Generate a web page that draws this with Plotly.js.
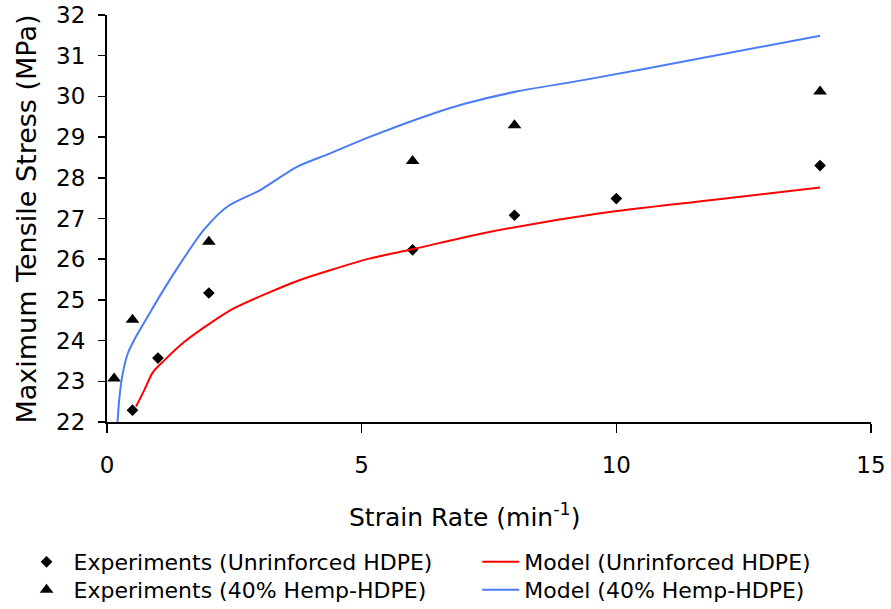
<!DOCTYPE html>
<html>
<head>
<meta charset="utf-8">
<script src="https://cdn.plot.ly/plotly-3.0.1.min.js"></script>
<style>html,body{margin:0;padding:0;background:#fff;}#chart{width:891px;height:609px;}</style>
</head>
<body>
<div id="chart"></div>
<script>
// Experimental data
const expRate = [0.5, 1, 2, 6, 8, 10, 14];
const expUnreinforced = [22.29, 23.57, 25.17, 26.23, 27.08, 27.49, 28.30];
const expHempRate = [0.14, 0.5, 2, 6, 8, 14];
const expHemp = [23.07, 24.51, 26.43, 28.41, 29.29, 30.12];

// Model curves
const modelURate = [0.57, 0.735, 0.90, 1.13, 1.52, 2.03, 2.49, 3.14, 3.79, 4.38, 5.17, 6.02, 7.39, 9.68, 11.84, 14.0];
const modelU = [22.38, 22.79, 23.22, 23.52, 23.97, 24.43, 24.79, 25.16, 25.49, 25.73, 26.02, 26.25, 26.64, 27.13, 27.45, 27.76];
const modelHRate = [0.2, 0.245, 0.31, 0.41, 0.57, 0.80, 1.03, 1.38, 1.90, 2.36, 3.01, 3.73, 4.38, 5.17, 6.41, 7.06, 8.04, 9.35, 11.84, 14.0];
const modelH = [21.88, 22.62, 23.2, 23.69, 24.10, 24.59, 25.08, 25.78, 26.72, 27.29, 27.70, 28.27, 28.60, 29.01, 29.58, 29.83, 30.12, 30.40, 30.98, 31.49];

const seriesNames = ['Experiments (Unrinforced HDPE)', 'Model (Unrinforced HDPE)',
                     'Experiments (40% Hemp-HDPE)', 'Model (40% Hemp-HDPE)'];

const FONT = "DejaVu Sans, Verdana, sans-serif";
const LFONT = {family: FONT, size: 22, color: '#000'};

// plot area in pixels
const PL = 106.5, PR = 871, PT = 15, PB = 422;
const PW = PR - PL, PH = PB - PT;

const traces = [
  {x: expRate, y: expUnreinforced, type: 'scatter', mode: 'markers', name: seriesNames[0],
   legend: 'legend', marker: {symbol: 'diamond', size: 9, color: '#000'}},
  {x: modelURate, y: modelU, type: 'scatter', mode: 'lines', name: seriesNames[1],
   legend: 'legend2', line: {color: '#ff0000', width: 2, shape: 'spline', smoothing: 0.8}},
  {x: expHempRate, y: expHemp, type: 'scatter', mode: 'markers', name: seriesNames[2],
   legend: 'legend3', marker: {symbol: 'triangle-up', size: 12, color: '#000'}},
  {x: modelHRate, y: modelH, type: 'scatter', mode: 'lines', name: seriesNames[3],
   legend: 'legend4', line: {color: '#4a7cf5', width: 2, shape: 'spline', smoothing: 0.8}}
];

function leg(xpx, ypx, iw) {
  return {xref: 'paper', yref: 'paper', x: (xpx - PL) / PW, y: (PB - ypx) / PH,
          xanchor: 'left', yanchor: 'top', itemwidth: iw, font: LFONT,
          bgcolor: 'rgba(0,0,0,0)', borderwidth: 0};
}

const layout = {
  width: 891, height: 609,
  margin: {l: PL, r: 891 - PR, t: PT, b: 609 - PB, pad: 0, autoexpand: false},
  paper_bgcolor: '#fff', plot_bgcolor: '#fff',
  font: {family: FONT, size: 22, color: '#000'},
  showlegend: true,
  xaxis: {
    range: [0, 15], tickvals: [0, 5, 10, 15], ticks: 'outside', ticklen: 9, tickwidth: 1.5,
    tickcolor: '#000', showline: true, linecolor: '#000', linewidth: 2,
    showgrid: false, zeroline: false, ticklabelstandoff: 12,
    tickfont: {family: FONT, size: 23, color: '#000'}
  },
  yaxis: {
    range: [22, 32], dtick: 1, ticks: 'outside', ticklen: 7, tickwidth: 1.5,
    tickcolor: '#000', showline: true, linecolor: '#000', linewidth: 2,
    showgrid: false, zeroline: false, ticklabelstandoff: 8,
    tickfont: {family: FONT, size: 23, color: '#000'}
  },
  legend: leg(19, 541, 44),
  legend2: leg(477, 541, 37),
  legend3: leg(19, 569, 44),
  legend4: leg(477, 569, 37),
  annotations: [
    {text: 'Strain Rate (min<sup>-1</sup>)', xref: 'paper', yref: 'paper',
     x: (464 - PL) / PW, y: (PB - 515) / PH, xanchor: 'center', yanchor: 'middle',
     showarrow: false, font: {family: FONT, size: 25, color: '#000'}},
    {text: 'Maximum Tensile Stress (MPa)', xref: 'paper', yref: 'paper', textangle: -90,
     x: (26 - PL) / PW, y: (PB - 219) / PH, xanchor: 'center', yanchor: 'middle',
     showarrow: false, font: {family: FONT, size: 27, color: '#000'}}
  ]
};

Plotly.newPlot('chart', traces, layout, {displayModeBar: false, staticPlot: true});
</script>
</body>
</html>
